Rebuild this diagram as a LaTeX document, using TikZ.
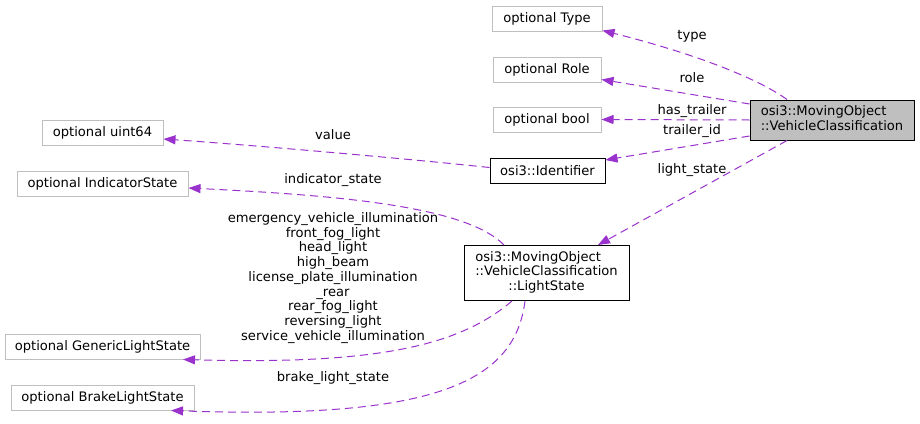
\documentclass[tikz,border=0pt]{standalone}
\usepackage{fontspec}
\setmainfont{DejaVu Sans}
\usetikzlibrary{arrows.meta}
\definecolor{edgec}{HTML}{9A32CD}
\definecolor{boxg}{HTML}{BFBFBF}
\definecolor{fillg}{HTML}{BFBFBF}
\begin{document}
\begin{tikzpicture}[x=1pt,y=-1pt,
  font=\fontsize{13.1}{14.75}\selectfont,
  box/.style={draw=boxg, line width=1pt, inner sep=0pt, fill=white},
  cbox/.style={draw=black, line width=1pt, inner sep=0pt, fill=white},
  edge/.style={draw=edgec, line width=1pt, dash pattern=on 8pt off 5pt,
    -{Triangle[length=12pt,width=9pt,fill=edgec]}},
  lbl/.style={inner sep=0pt, align=center, text height=9.5pt, text depth=2.8pt}]
\path[use as bounding box, fill=white] (0,0) rectangle (920,423);

% nodes
\node[box, minimum width=110pt, minimum height=25pt] (type) at (547,18.5) {optional Type};
\node[box, minimum width=108pt, minimum height=25pt] (role) at (547,69.5) {optional Role};
\node[box, minimum width=108pt, minimum height=25pt] (bool) at (547,119.5) {optional bool};
\node[cbox, minimum width=115pt, minimum height=25pt] (ident) at (547.5,170.5) {osi3::Identifier};
\node[cbox, fill=fillg, minimum width=164pt, minimum height=40pt] (vc) at (832,120)
  {\begin{tabular}{@{}l@{}}osi3::MovingObject\\::VehicleClassification\end{tabular}};
\node[box, minimum width=121pt, minimum height=25pt] (uint) at (102.5,133) {optional uint64};
\node[box, minimum width=171pt, minimum height=25pt] (ind) at (102.5,184) {optional IndicatorState};
\node[cbox, minimum width=165pt, minimum height=55pt] (ls) at (546.5,273)
  {\begin{tabular}{@{}l@{}}osi3::MovingObject\\::VehicleClassification\\\multicolumn{1}{@{}c@{}}{::LightState}\end{tabular}};
\node[box, minimum width=195pt, minimum height=25pt] (gen) at (102.5,346.5) {optional GenericLightState};
\node[box, minimum width=183pt, minimum height=25pt] (brake) at (102.5,397.5) {optional BrakeLightState};

% edges
\draw[edge] ([xshift=-45pt]vc.north) .. controls (760,80) and (700,55) .. ([yshift=1pt]type.south east);
\draw[edge] ([yshift=16pt]vc.west) -- ([yshift=-10pt]role.east);
\draw[edge] (vc.west) -- (bool.east);
\draw[edge] ([yshift=-16pt]vc.west) -- ([yshift=10.5pt]ident.east);
\draw[edge] ([xshift=-45pt]vc.south) -- ([xshift=51.5pt]ls.north);
\draw[edge] ([yshift=3pt]ident.west) .. controls (400,158) and (250,145) .. ([yshift=-6pt]uint.east);
\draw[edge] ([xshift=-42.5pt]ls.north) .. controls (465,205) and (330,195) .. ([yshift=-4pt]ind.east);
\draw[edge] ([xshift=-34.5pt]ls.south) .. controls (460,345) and (380,365) .. ([xshift=80.5pt]gen.south);
\draw[edge] ([xshift=-21.5pt]ls.south) .. controls (515,380) and (440,420) .. ([xshift=68.5pt]brake.south);

% labels
\node[lbl] (ltype) at (692,36.5) {type};
\node[lbl] (lrole) at (692,79.5) {role};
\node[lbl] (lhas) at (692,111.5) {has\_trailer};
\node[lbl] (ltid) at (692,131.5) {trailer\_id};
\node[lbl] (llight) at (692,170.5) {light\_state};
\node[lbl] (lvalue) at (333,136.5) {value};
\node[lbl] (lind) at (333,180.5) {indicator\_state};
\node[inner sep=0pt, align=center] (lmulti) at (333,278)
  {emergency\_vehicle\_illumination\\front\_fog\_light\\head\_light\\high\_beam\\license\_plate\_illumination\\\_rear\\rear\_fog\_light\\reversing\_light\\service\_vehicle\_illumination};
\node[lbl] (lbrake) at (333,378) {brake\_light\_state};
\end{tikzpicture}
\end{document}
